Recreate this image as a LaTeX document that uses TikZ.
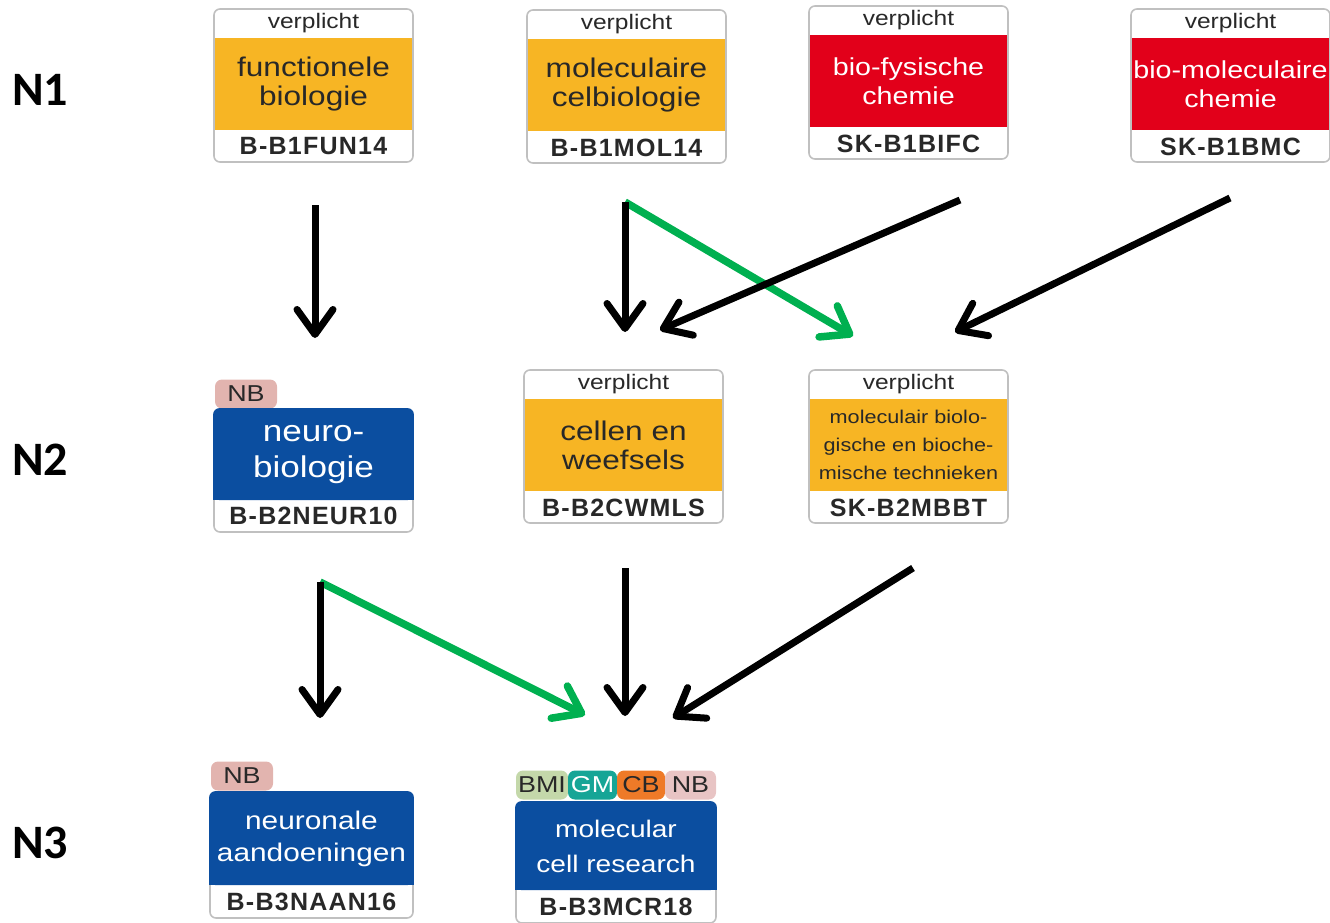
\documentclass[tikz,border=0pt]{standalone}
\usepackage{fontspec}
\setmainfont{Liberation Sans}
\newfontfamily\cardfont[FakeStretch=1.17]{Liberation Sans}
\newfontfamily\codefont[LetterSpace=5]{Liberation Sans}
\newfontfamily\levelfont{Carlito}
\usetikzlibrary{arrows.meta}

\definecolor{bandorange}{RGB}{247,181,36}
\definecolor{bandred}{RGB}{226,0,26}
\definecolor{cardblue}{RGB}{11,78,160}
\definecolor{cardedge}{RGB}{192,192,192}
\definecolor{textdark}{RGB}{40,40,40}
\definecolor{linkgreen}{RGB}{0,176,80}
\definecolor{tagpink}{RGB}{226,180,175}
\definecolor{tagsage}{RGB}{196,216,170}
\definecolor{tagteal}{RGB}{22,165,150}
\definecolor{tagorange}{RGB}{238,122,40}
\definecolor{tagrose}{RGB}{232,196,196}

\tikzset{
  cardbody/.style={fill=white, rounded corners=6pt},
  cardline/.style={draw=cardedge, line width=1.6pt, rounded corners=6pt},
  reqtext/.style={inner sep=0pt, text=textdark, font=\cardfont\fontsize{21}{23}\selectfont},
  titletext/.style={inner sep=0pt, align=center, text=textdark, font=\cardfont\fontsize{27}{29}\selectfont},
  codetext/.style={inner sep=0pt, text=textdark, font=\codefont\bfseries\fontsize{25}{27}\selectfont},
  tagbox/.style={inner sep=0pt, rounded corners=7pt, minimum height=29pt, text=textdark,
    font=\cardfont\fontsize{23}{25}\selectfont},
  level/.style={inner sep=0pt, anchor=west, font=\levelfont\bfseries\fontsize{48}{52}\selectfont},
  flow/.style={line width=7pt, -{Straight Barb[length=25pt,width=36pt,line cap=round,line join=round]}},
  flowblack/.style={flow, draw=black},
  flowgreen/.style={flow, draw=linkgreen, line width=7.5pt},
}

% card with a "verplicht" header: name, x0, y0, band colour, title options, title, code
\newcommand\reqcard[7]{%
  \path[cardbody] (#2,#3) rectangle ++(199,153);
  \fill[#4] (#2,#3+29) rectangle ++(199,92);
  \path[cardline] (#2,#3) rectangle ++(199,153);
  \node[reqtext] (#1-req) at (#2+99.5,#3+14.5) {verplicht};
  \node[titletext,#5] (#1) at (#2+99.5,#3+75) {#6};
  \node[codetext] (#1-code) at (#2+99.5,#3+137.5) {#7};
}
% card with a blue title band: name, x0, y0, width, height, band height, title options, title, code
\newcommand\bluecard[9]{%
  \path[cardbody] (#2,#3) rectangle ++(#4,#5);
  \path[cardline] (#2,#3) rectangle ++(#4,#5);
  \fill[cardblue, rounded corners=6pt] (#2-0.8,#3-0.8) rectangle ++(#4+1.6,#6+0.8);
  \fill[cardblue] (#2-0.8,#3+#6-10) rectangle ++(#4+1.6,10);
  \node[titletext,text=white,#7] (#1) at (#2+#4/2,#3+#6/2) {#8};
  \node[codetext] (#1-code) at (#2+#4/2,#3+#6+#5/2-#6/2) {#9};
}

\begin{document}
\begin{tikzpicture}[x=1pt,y=-1pt]
\useasboundingbox (0,0) rectangle (1330,923);

% level labels
\node[level] (n1) at (12,90) {N1};
\node[level] (n2) at (12,460) {N2};
\node[level] (n3) at (12,843) {N3};

% level 1
\reqcard{fun}{214}{9}{bandorange}{}{functionele\\biologie}{B-B1FUN14}
\reqcard{mol}{527}{10}{bandorange}{}{moleculaire\\celbiologie}{B-B1MOL14}
\reqcard{bifc}{809}{6}{bandred}{text=white,font=\cardfont\fontsize{24.5}{29}\selectfont}{bio-fysische\\chemie}{SK-B1BIFC}
\reqcard{bmc}{1131}{9}{bandred}{text=white,font=\cardfont\fontsize{24.5}{29}\selectfont}{bio-moleculaire\\chemie}{SK-B1BMC}

% level 2
\node[tagbox, fill=tagpink, minimum width=62pt] (neur-nb) at (246,394) {NB};
\bluecard{neur}{214}{409}{199}{123}{91}{font=\cardfont\fontsize{30}{36}\selectfont}{neuro-\\biologie}{B-B2NEUR10}
\reqcard{cw}{524}{370}{bandorange}{}{cellen en\\weefsels}{B-B2CWMLS}
\reqcard{mbbt}{809}{370}{bandorange}{font=\cardfont\fontsize{18.5}{28}\selectfont}{moleculair biolo-\\gische en bioche-\\mische technieken}{SK-B2MBBT}

% level 3
\node[tagbox, fill=tagpink, minimum width=62pt] (naan-nb) at (242,776) {NB};
\bluecard{naan}{210}{792}{203}{126}{93}{font=\cardfont\fontsize{25.5}{32}\selectfont}{neuronale\\aandoeningen}{B-B3NAAN16}
\node[tagbox, fill=tagsage, minimum width=52pt] (mcr-bmi) at (542,785) {BMI};
\node[tagbox, fill=tagteal, text=white, minimum width=49pt] (mcr-gm) at (592.5,785) {GM};
\node[tagbox, fill=tagorange, minimum width=48pt] (mcr-cb) at (641,785) {CB};
\node[tagbox, fill=tagrose, minimum width=51pt] (mcr-nb) at (690.5,785) {NB};
\bluecard{mcr}{516}{802}{200}{121}{88}{font=\cardfont\fontsize{24}{35}\selectfont}{molecular\\cell research}{B-B3MCR18}

% connector ends
\coordinate (fun-out) at (315,205);
\coordinate (mol-out) at (625,202);
\coordinate (bifc-out) at (960,200);
\coordinate (bmc-out) at (1230,198);
\coordinate (neur-in) at (315,338);
\coordinate (cw-in) at (625,332);
\coordinate (cw-in2) at (660,330);
\coordinate (mbbt-in) at (853,336);
\coordinate (mbbt-in2) at (955,332);
\coordinate (neur-out) at (320,582);
\coordinate (cw-out) at (625,568);
\coordinate (mbbt-out) at (913,568);
\coordinate (naan-in) at (320,718);
\coordinate (mcr-in) at (585,715);
\coordinate (mcr-in2) at (625,716);
\coordinate (mcr-in3) at (673,718);

% connectors
\draw[flowblack] (fun-out) -- (neur-in);
\draw[flowgreen] (mol-out) -- (mbbt-in);
\draw[flowblack] (mol-out) -- (cw-in);
\draw[flowblack] (bifc-out) -- (cw-in2);
\draw[flowblack] (bmc-out) -- (mbbt-in2);
\draw[flowgreen] (neur-out) -- (mcr-in);
\draw[flowblack] (neur-out) -- (naan-in);
\draw[flowblack] (cw-out) -- (mcr-in2);
\draw[flowblack] (mbbt-out) -- (mcr-in3);
\end{tikzpicture}
\end{document}
